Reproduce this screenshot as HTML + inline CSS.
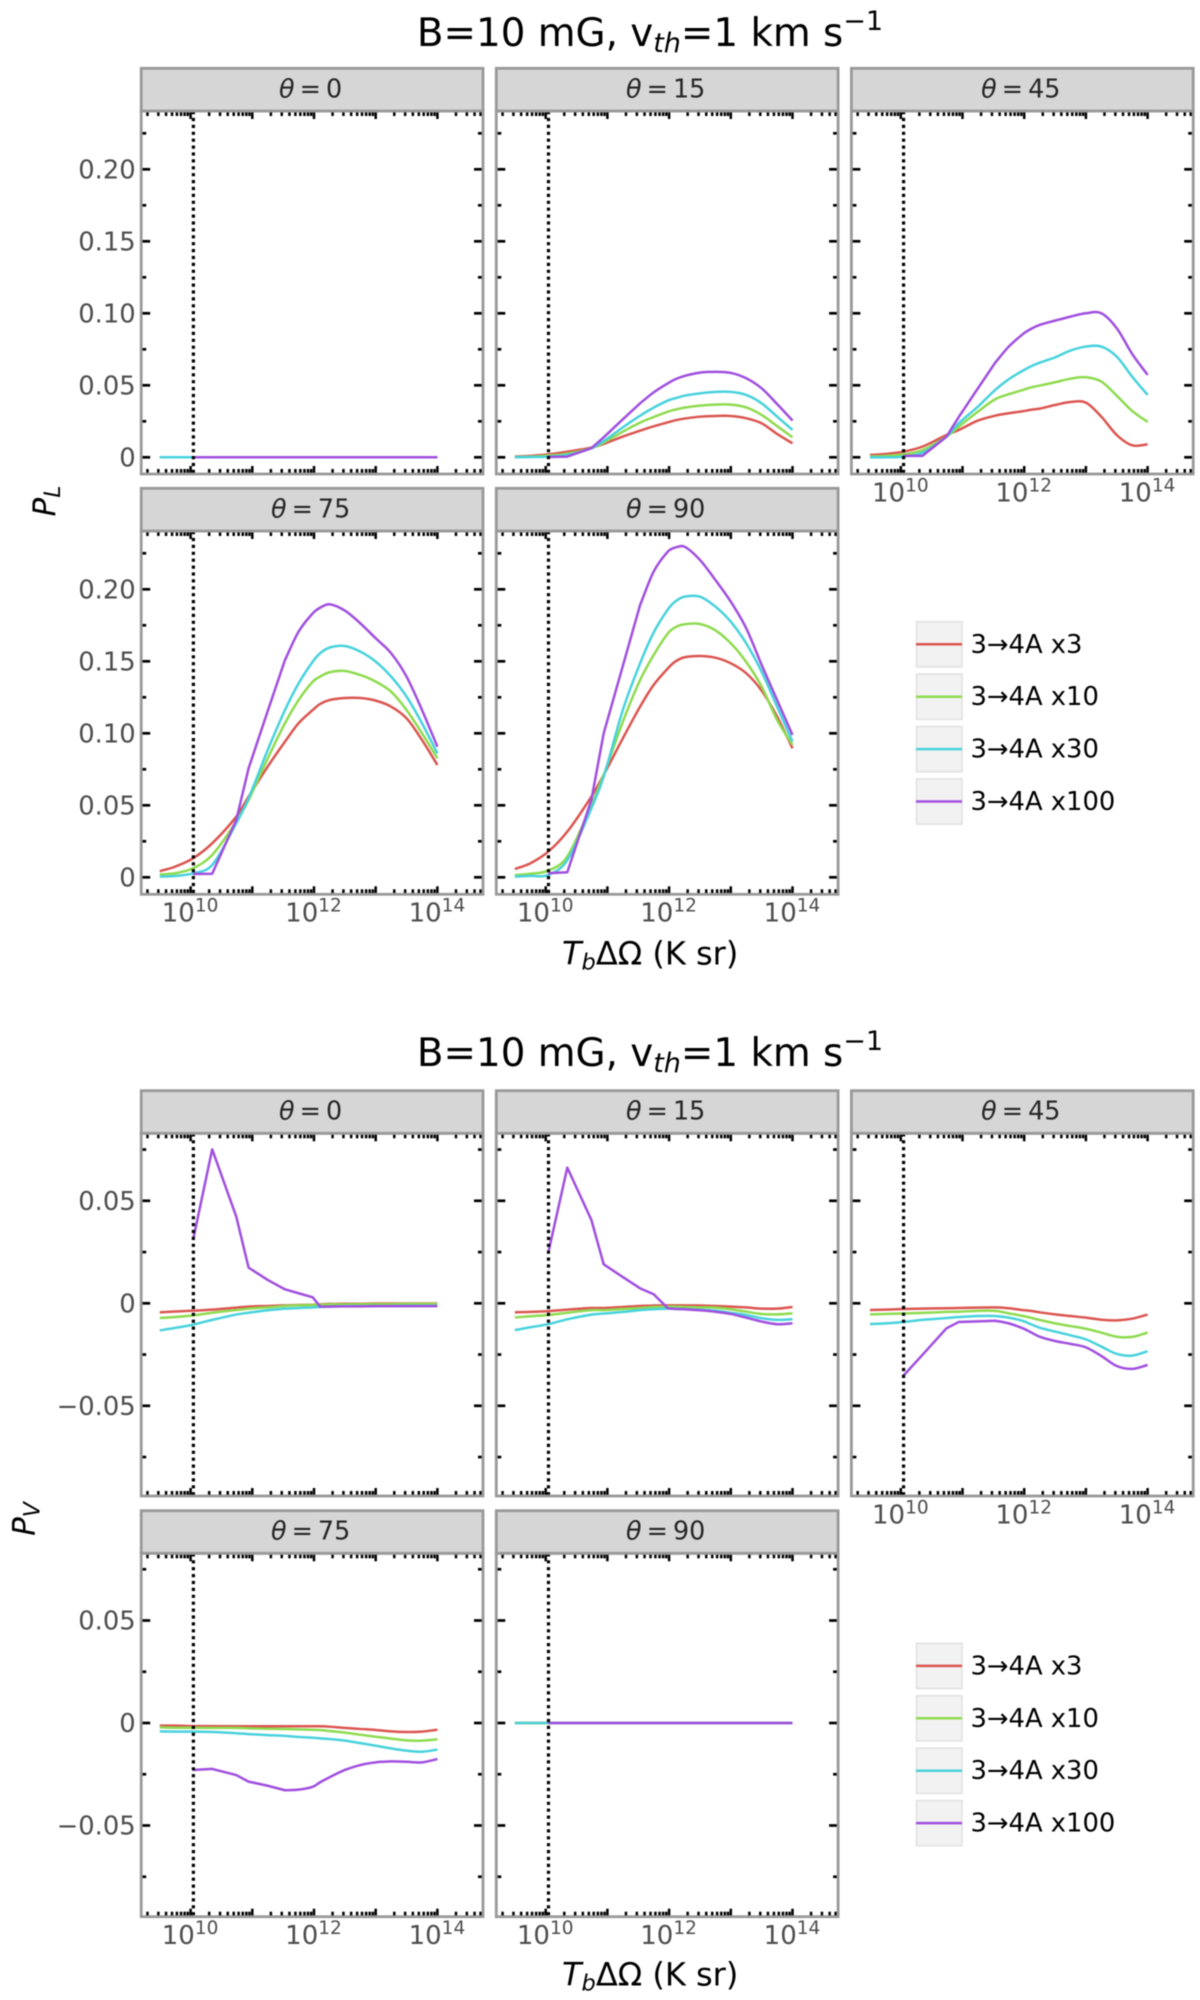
<!DOCTYPE html>
<html lang="en">
<head>
<meta charset="utf-8">
<title>Polarization vs. Tb dOmega</title>
<style>
html,body{margin:0;padding:0;background:#fff;}
body{width:1200px;height:2000px;overflow:hidden;}
svg{display:block;filter:blur(0.5px);font-family:"DejaVu Sans","Liberation Sans",sans-serif;}
</style>
</head>
<body>
<svg id="figure" xmlns="http://www.w3.org/2000/svg" width="1200" height="2000" viewBox="0 0 1200 2000">
  <rect x="0" y="0" width="1200" height="2000" fill="#ffffff"/>

  <text x="650" y="46" font-size="38.8" text-anchor="middle" fill="#000">B=10 mG, v<tspan font-size="27" font-style="italic" dy="6">th</tspan><tspan dy="-6">=1 km s</tspan><tspan font-size="27" dy="-16">−1</tspan></text>
  <text x="650" y="1066" font-size="38.8" text-anchor="middle" fill="#000">B=10 mG, v<tspan font-size="27" font-style="italic" dy="6">th</tspan><tspan dy="-6">=1 km s</tspan><tspan font-size="27" dy="-16">−1</tspan></text>

  <text transform="translate(55,501) rotate(-90)" font-size="31" text-anchor="middle" font-style="italic" fill="#000">P<tspan font-size="22" dy="5">L</tspan></text>
  <text transform="translate(34.5,1519) rotate(-90)" font-size="31" text-anchor="middle" font-style="italic" fill="#000">P<tspan font-size="22" dy="5">V</tspan></text>

  <text x="562" y="964.5" font-size="32" fill="#000"><tspan font-style="italic">T</tspan><tspan font-style="italic" font-size="22.5" dy="5">b</tspan><tspan dy="-5">ΔΩ (K sr)</tspan></text>
  <text x="562" y="1985.5" font-size="32" fill="#000"><tspan font-style="italic">T</tspan><tspan font-style="italic" font-size="22.5" dy="5">b</tspan><tspan dy="-5">ΔΩ (K sr)</tspan></text>
</svg>

<script>
// ---------- shared data ----------
const logTb = [9.5, 9.75, 10.04, 10.35, 10.74, 10.94, 11.25, 11.53, 11.75, 11.98, 12.1, 12.25, 12.5, 12.75, 13, 13.25, 13.5, 13.75, 14];
const seriesLabels = ["3→4A x3", "3→4A x10", "3→4A x30", "3→4A x100"];
const thetaLabels = ["0", "15", "45", "75", "90"];
const plTickValues = [0, 0.05, 0.10, 0.15, 0.20];
const plTickLabels = ["0", "0.05", "0.10", "0.15", "0.20"];
const plMinorTicks = [0.025, 0.075, 0.125, 0.175, 0.225];
const pvTickValues = [-0.05, 0, 0.05];
const pvTickLabels = ["−0.05", "0", "0.05"];
const pvMinorTicks = [-0.075, -0.025, 0.025, 0.075];
const xLabelExponents = [10, 12, 14];
const xMajorDecades = [10, 11, 12, 13, 14];
const xMinorDecades = [9, 10, 11, 12, 13, 14];
const xMinorMultipliers = [2, 3, 4, 5, 6, 7, 8, 9];
const dottedLineLogT = 10.045;

// ---------- P_L values ----------
const PL_0_x3   = [0,0,0,0,0,0,0,0,0,0,0,0,0,0,0,0,0,0,0];
const PL_0_x10  = [0,0,0,0,0,0,0,0,0,0,0,0,0,0,0,0,0,0,0];
const PL_0_x30  = [0,0,0,0,0,0,0,0,0,0,0,0,0,0,0,0,0,0,0];
const PL_0_x100 = [null,null,0,0,0,0,0,0,0,0,0,0,0,0,0,0,0,0,0];

const PL_15_x3   = [.0005,.001,.002,.0039,.0067,.0093,.0144,.0185,.0215,.0243,.0257,.0269,.0282,.0287,.0287,.0271,.0236,.0162,.0097];
const PL_15_x10  = [.0002,.0005,.0012,.0025,.0063,.0102,.0178,.0241,.028,.0317,.0331,.0345,.0359,.0366,.0366,.0346,.0294,.0217,.0139];
const PL_15_x30  = [0,.0002,.0005,.0016,.0063,.0113,.0208,.0289,.0345,.0394,.041,.0428,.0444,.0454,.0454,.0433,.0375,.0283,.019];
const PL_15_x100 = [null,null,.0002,.0005,.0063,.0139,.0264,.0375,.0451,.0514,.0542,.0565,.0588,.0593,.0586,.0549,.0479,.037,.0255];

const PL_45_x3   = [.0016,.0023,.0039,.0074,.0155,.019,.0255,.0289,.0306,.032,.0329,.0338,.0363,.0384,.038,.0282,.0155,.0083,.009];
const PL_45_x10  = [.0005,.001,.002,.005,.0143,.0213,.0317,.0403,.0438,.0468,.0484,.0498,.0521,.0546,.0556,.0526,.0428,.0322,.0245];
const PL_45_x30  = [0,0,.0005,.0032,.0143,.0236,.0352,.0468,.0542,.0602,.063,.0657,.0694,.0741,.0769,.0769,.0699,.056,.0433];
const PL_45_x100 = [null,null,.001,.001,.0143,.028,.0479,.0657,.0769,.0856,.0889,.0919,.0949,.0977,.1,.1,.0896,.0718,.0572];

const PL_75_x3   = [.0042,.0074,.0132,.0236,.0421,.056,.0769,.0942,.107,.1162,.1204,.1231,.1245,.1245,.1227,.1185,.1104,.0954,.078];
const PL_75_x10  = [.0019,.0028,.0063,.0155,.0387,.0537,.0826,.107,.1231,.1359,.1394,.1424,.1433,.1405,.1359,.1289,.1162,.1,.0826];
const PL_75_x30  = [.0005,.0009,.0028,.0086,.0375,.0549,.0884,.1162,.1347,.1498,.1556,.1595,.1606,.1567,.1498,.1394,.1255,.107,.0861];
const PL_75_x100 = [null,null,.0023,.0025,.0398,.0757,.1155,.1509,.1706,.1833,.1873,.1896,.1852,.1764,.166,.1556,.1394,.1162,.0907];

const PL_90_x3   = [.0058,.0097,.0178,.0317,.056,.0711,.0965,.1185,.1336,.1451,.1498,.1528,.1537,.1525,.1486,.1417,.1296,.1116,.0896];
const PL_90_x10  = [.0015,.0025,.0046,.0144,.0502,.0711,.1081,.137,.1544,.1694,.1736,.1757,.1759,.1715,.1625,.1495,.1324,.1093,.0919];
const PL_90_x30  = [.0005,.001,.0016,.012,.0479,.0699,.1162,.1486,.17,.186,.1915,.1949,.1949,.188,.1775,.1625,.1428,.1185,.0942];
const PL_90_x100 = [null,null,.0028,.0035,.0537,.1,.1468,.1891,.2123,.2262,.229,.2296,.2204,.2065,.1914,.1729,.1475,.1231,.0988];

// ---------- P_V values ----------
const PV_0_x3   = [-.0044,-.004,-.0036,-.0031,-.0021,-.0016,-.0013,-.001,-.0008,-.0007,-.0005,-.0003,-.0002,-.0002,-.0001,-.0001,-.0001,-.0001,-.0001];
const PV_0_x10  = [-.0072,-.0067,-.0059,-.0046,-.0033,-.0026,-.002,-.0013,-.001,-.0008,-.0007,-.0005,-.0005,-.0004,-.0004,-.0004,-.0003,-.0003,-.0003];
const PV_0_x30  = [-.0132,-.012,-.0104,-.0081,-.0055,-.0046,-.0034,-.0026,-.0023,-.002,-.0018,-.0016,-.0014,-.0014,-.0013,-.0013,-.0012,-.0012,-.0012];
const PV_0_x100 = [null,null,.0309,.0751,.0423,.0174,.0114,.0068,.0049,.0029,-.0016,-.0016,-.0015,-.0015,-.0014,-.0014,-.0014,-.0014,-.0014];

const PV_15_x3   = [-.0044,-.0042,-.0038,-.0031,-.0023,-.0023,-.0018,-.0013,-.0011,-.001,-.001,-.001,-.0011,-.0013,-.0016,-.002,-.0026,-.0026,-.0018];
const PV_15_x10  = [-.0069,-.0063,-.0057,-.0046,-.0033,-.0033,-.0028,-.0023,-.0018,-.0016,-.0016,-.0018,-.002,-.0021,-.0029,-.0041,-.0052,-.0054,-.0049];
const PV_15_x30  = [-.0131,-.0117,-.0102,-.0078,-.0055,-.005,-.0042,-.0033,-.0029,-.0026,-.0026,-.0028,-.0031,-.0036,-.0046,-.0057,-.0073,-.0081,-.0078];
const PV_15_x100 = [null,null,.0244,.0662,.0407,.019,.0128,.0073,.0044,-.0024,-.0028,-.0029,-.0034,-.0041,-.0052,-.007,-.0089,-.0102,-.0098];

const PV_45_x3   = [-.0033,-.0031,-.0028,-.0026,-.0024,-.0023,-.0021,-.002,-.0024,-.0033,-.0037,-.0044,-.0054,-.0062,-.007,-.008,-.0083,-.0075,-.0055];
const PV_45_x10  = [-.0054,-.0052,-.005,-.0047,-.0042,-.0041,-.0037,-.0037,-.0049,-.0062,-.007,-.0081,-.0098,-.0111,-.0124,-.0143,-.0163,-.0164,-.0143];
const PV_45_x30  = [-.0101,-.0098,-.0091,-.0081,-.0072,-.0067,-.0062,-.0062,-.007,-.0086,-.0101,-.0119,-.0138,-.0156,-.0176,-.0211,-.0247,-.0255,-.0234];
const PV_45_x100 = [null,null,-.0354,-.0252,-.0122,-.0091,-.0088,-.0085,-.0098,-.0122,-.014,-.0163,-.0184,-.0198,-.0215,-.0257,-.0306,-.032,-.0301];

const PV_75_x3   = [-.0013,-.0013,-.0015,-.0015,-.0016,-.0016,-.0016,-.0016,-.0016,-.0016,-.0016,-.0018,-.0024,-.0029,-.0034,-.0041,-.0044,-.0042,-.0033];
const PV_75_x10  = [-.0021,-.0023,-.0023,-.0024,-.0024,-.0026,-.0028,-.0029,-.0031,-.0033,-.0034,-.0039,-.0047,-.0057,-.0067,-.0076,-.0085,-.0086,-.008];
const PV_75_x30  = [-.0041,-.0042,-.0042,-.0044,-.005,-.0054,-.0059,-.0063,-.0068,-.0072,-.0075,-.0078,-.0086,-.0098,-.0111,-.0124,-.0135,-.014,-.013];
const PV_75_x100 = [null,null,-.0229,-.0224,-.0254,-.0286,-.0306,-.0328,-.0325,-.0311,-.0289,-.0265,-.0229,-.0205,-.0192,-.0187,-.0189,-.0192,-.0176];

const PV_90_x3   = [0,0,0,0,0,0,0,0,0,0,0,0,0,0,0,0,0,0,0];
const PV_90_x10  = [0,0,0,0,0,0,0,0,0,0,0,0,0,0,0,0,0,0,0];
const PV_90_x30  = [0,0,0,0,0,0,0,0,0,0,0,0,0,0,0,0,0,0,0];
const PV_90_x100 = [null,null,0,0,0,0,0,0,0,0,0,0,0,0,0,0,0,0,0];

const plPanelSeries = [
  [PL_0_x3, PL_0_x10, PL_0_x30, PL_0_x100],
  [PL_15_x3, PL_15_x10, PL_15_x30, PL_15_x100],
  [PL_45_x3, PL_45_x10, PL_45_x30, PL_45_x100],
  [PL_75_x3, PL_75_x10, PL_75_x30, PL_75_x100],
  [PL_90_x3, PL_90_x10, PL_90_x30, PL_90_x100]
];
const pvPanelSeries = [
  [PV_0_x3, PV_0_x10, PV_0_x30, PV_0_x100],
  [PV_15_x3, PV_15_x10, PV_15_x30, PV_15_x100],
  [PV_45_x3, PV_45_x10, PV_45_x30, PV_45_x100],
  [PV_75_x3, PV_75_x10, PV_75_x30, PV_75_x100],
  [PV_90_x3, PV_90_x10, PV_90_x30, PV_90_x100]
];

// ---------- layout ----------
const NS = "http://www.w3.org/2000/svg";
const svg = document.getElementById("figure");
const seriesColors = ["#db5550", "#8edb4f", "#48d2dc", "#a04fdf"];
const seriesSlugs = ["x3", "x10", "x30", "x100"];
const PANEL_W = 341.8, COL_STEP = 355.1, LEFT = 141.2;
const X_TICK_10 = 190.6, PX_PER_DECADE = 61.7;
const FRAME = "#999999";

const blocks = [
  { slug: "pl", series: plPanelSeries, majors: plTickValues, labels: plTickLabels, minors: plMinorTicks,
    pxPerUnit: 1440,
    rows: [{ stripTop: 68.3, top: 111, bottom: 474, zero: 457.3 }, { stripTop: 488.3, top: 531, bottom: 894.3, zero: 877.3 }],
    legendTop: 621.7, textShift: -1 },
  { slug: "pv", series: pvPanelSeries, majors: pvTickValues, labels: pvTickLabels, minors: pvMinorTicks,
    pxPerUnit: 2050,
    rows: [{ stripTop: 1090.7, top: 1133.3, bottom: 1496, zero: 1303.3 }, { stripTop: 1510.7, top: 1553.3, bottom: 1916.7, zero: 1723 }],
    legendTop: 1643.3, textShift: -1 }
];

function xScale(col, logT) { return X_TICK_10 + col * COL_STEP + (logT - 10) * PX_PER_DECADE; }
function yScale(block, row, v) { return block.rows[row].zero - v * block.pxPerUnit; }

function make(tag, parent, attrs) {
  const e = document.createElementNS(NS, tag);
  for (const k in attrs) e.setAttribute(k, attrs[k]);
  parent.appendChild(e);
  return e;
}

// Smooth curve through the points; segments up to sharpUntil (log T) stay straight.
function curvePath(col, block, row, values, sharpUntil) {
  const pts = [];
  values.forEach(function (v, i) {
    if (v !== null) pts.push({ x: xScale(col, logTb[i]), y: yScale(block, row, v), t: logTb[i] });
  });
  function slope(i) {
    const p = pts[i];
    if (i === 0) return (pts[1].y - p.y) / (pts[1].x - p.x);
    if (i === pts.length - 1) return (p.y - pts[i - 1].y) / (p.x - pts[i - 1].x);
    if (p.t <= sharpUntil) return (pts[i + 1].y - p.y) / (pts[i + 1].x - p.x);
    return (pts[i + 1].y - pts[i - 1].y) / (pts[i + 1].x - pts[i - 1].x);
  }
  let d = "M" + pts[0].x.toFixed(2) + "," + pts[0].y.toFixed(2);
  for (let i = 0; i < pts.length - 1; i++) {
    const a = pts[i], b = pts[i + 1];
    if (b.t <= sharpUntil) { d += "L" + b.x.toFixed(2) + "," + b.y.toFixed(2); continue; }
    const h = (b.x - a.x) / 3;
    d += "C" + (a.x + h).toFixed(2) + "," + (a.y + slope(i) * h).toFixed(2) + " " +
         (b.x - h).toFixed(2) + "," + (b.y - slope(i + 1) * h).toFixed(2) + " " +
         b.x.toFixed(2) + "," + b.y.toFixed(2);
  }
  return d;
}

function drawPanel(block, panelIndex) {
  const row = panelIndex < 3 ? 0 : 1;
  const col = panelIndex < 3 ? panelIndex : panelIndex - 3;
  const r = block.rows[row];
  const left = LEFT + col * COL_STEP;
  const right = left + PANEL_W;
  const theta = thetaLabels[panelIndex];
  const g = make("g", svg, {});
  
  

  // series lines
  block.series[panelIndex].forEach(function (values, s) {
    let sharpUntil = -1;
    if (s === 3) sharpUntil = (block.slug === "pv" && panelIndex < 2) ? 12.25 : 11.53;
    const line = make("path", g, { d: curvePath(col, block, row, values, sharpUntil), fill: "none", stroke: seriesColors[s], "stroke-width": 2.5, "stroke-linejoin": "round" });
    
    
  });

  // dotted reference line
  const vx = xScale(col, dottedLineLogT);
  const vline = make("line", g, { x1: vx, x2: vx, y1: r.top, y2: r.bottom, stroke: "#000", "stroke-width": 3.2, "stroke-dasharray": "3.2 3.7" });
  
  

  // y ticks
  block.majors.forEach(function (v, i) {
    const y = yScale(block, row, v);
    [[left, left + 9], [right, right - 9]].forEach(function (p) {
      const t = make("line", g, { x1: p[0], x2: p[1], y1: y, y2: y, stroke: "#000", "stroke-width": 2.7 });
      
      
    });
    if (col === 0) {
      const lab = make("text", g, { x: left - 5.5, y: y + 9, "font-size": 25.8, "text-anchor": "end", fill: "#4d4d4d" });
      lab.textContent = block.labels[i];
      
      
    }
  });
  block.minors.forEach(function (v) {
    const y = yScale(block, row, v);
    [[left, left + 5], [right, right - 5]].forEach(function (p) {
      const t = make("line", g, { x1: p[0], x2: p[1], y1: y, y2: y, stroke: "#000", "stroke-width": 2.7 });
      
      
    });
  });

  // x ticks
  xMajorDecades.forEach(function (d) {
    const x = xScale(col, d);
    [[r.bottom, r.bottom - 8], [r.top, r.top + 8]].forEach(function (p) {
      const t = make("line", g, { x1: x, x2: x, y1: p[0], y2: p[1], stroke: "#000", "stroke-width": 2.5 });
      
      
    });
  });
  xMinorDecades.forEach(function (d) {
    xMinorMultipliers.forEach(function (m) {
      const x = xScale(col, d + Math.log10(m));
      if (x < left + 2 || x > right - 1) return;
      [[r.bottom, r.bottom - 5], [r.top, r.top + 5]].forEach(function (p) {
        const t = make("line", g, { x1: x, x2: x, y1: p[0], y2: p[1], stroke: "#000", "stroke-width": 2.5 });
        
        
      });
    });
  });

  // frame
  const frame = make("rect", g, { x: left, y: r.top, width: PANEL_W, height: r.bottom - r.top, fill: "none", stroke: FRAME, "stroke-width": 2.8 });
  
  

  // strip
  const strip = make("rect", g, { x: left, y: r.stripTop, width: PANEL_W, height: r.top - r.stripTop, fill: "#d6d6d6", stroke: FRAME, "stroke-width": 2.8 });
  
  
  const st = make("text", g, { x: left + PANEL_W / 2 - 1.5, y: r.stripTop + 29, "font-size": 25.4, "text-anchor": "middle", fill: "#262626" });
  
  
  const th = make("tspan", st, { "font-style": "italic" });
  th.textContent = "θ";
  const rest = make("tspan", st, {});
  rest.textContent = "\u2009=\u2009" + theta;

  // x tick labels on the lowest panel in each column
  if (row === 1 || col === 2) {
    xLabelExponents.forEach(function (exp) {
      const lab = make("text", g, { x: xScale(col, exp) - 0.5, y: r.bottom + 27.4, "font-size": 26, "text-anchor": "middle", fill: "#4d4d4d" });
      
      
      const base = make("tspan", lab, {});
      base.textContent = "10";
      const sup = make("tspan", lab, { "font-size": 18.5, dy: -10 });
      sup.textContent = String(exp);
    });
  }
}

function drawLegend(block) {
  const g = make("g", svg, {});
  
  
  seriesLabels.forEach(function (label, i) {
    const top = block.legendTop + i * 52.4;
    const key = make("rect", g, { x: 916.5, y: top, width: 45.5, height: 45.2, fill: "#f2f2f2", stroke: "#e2e2e2", "stroke-width": 1.6 });
    
    
    const ln = make("line", g, { x1: 916, x2: 962, y1: top + 22.6, y2: top + 22.6, stroke: seriesColors[i], "stroke-width": 2.5 });
    
    
    const t = make("text", g, { x: 970.5, y: top + 22.6 + block.textShift + 9.5, "font-size": 25.8, fill: "#000" });
    t.textContent = label;
    
    
  });
}

blocks.forEach(function (block) {
  for (let p = 0; p < 5; p++) drawPanel(block, p);
  drawLegend(block);
});
</script>
</body>
</html>
